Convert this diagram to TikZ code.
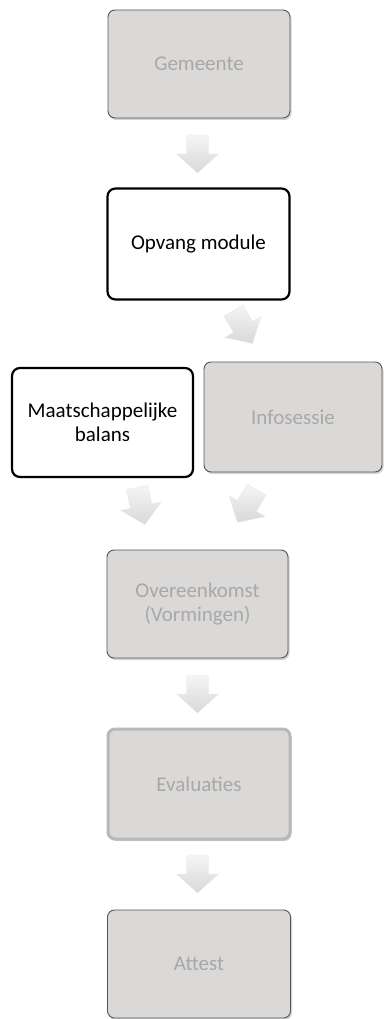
\documentclass[tikz,border=0pt]{standalone}
\usepackage{fontspec}
\setmainfont{Carlito}
\usetikzlibrary{shadows}
\definecolor{boxgrey}{HTML}{DBD9D8}
\definecolor{txtgrey}{HTML}{A8A8A8}
\definecolor{edgegrey}{HTML}{555555}
\definecolor{arrowlight}{HTML}{F5F5F5}
\definecolor{arrowdark}{HTML}{D8D8D8}
\tikzset{
  greybox/.style={draw=edgegrey, line width=0.9pt, fill=boxgrey, rounded corners=7pt,
    drop shadow={shadow xshift=1.5pt, shadow yshift=-2pt, opacity=0.35},
    text=txtgrey, align=center, font=\fontsize{21}{23.5}\selectfont},
  palebox/.style={greybox, draw=black!28, line width=3pt, drop shadow={opacity=0}},
  whitebox/.style={draw=black, line width=2.2pt, fill=white, rounded corners=8pt,
    text=black, align=center, font=\fontsize{21}{23.5}\selectfont},
  blockarrow/.style={top color=arrowlight, bottom color=arrowdark, draw=black!8, line width=0.4pt}
}
\newcommand{\blockarr}[3]{% name, center, rotation
  \coordinate (#1) at (#2);
  \begin{scope}[shift={(#2)}, rotate=#3]
    \path[blockarrow] (-11,-19) -- (11,-19) -- (11,0) -- (21,0) -- (0,19) -- (-21,0) -- (-11,0) -- cycle;
  \end{scope}
}
\begin{document}
\begin{tikzpicture}[x=1pt, y=-1pt]
  \useasboundingbox (0,0) rectangle (383,1019);
  \node[greybox, minimum width=182pt, minimum height=108pt] (gem) at (199,64) {Gemeente};
  \node[whitebox, minimum width=182pt, minimum height=111pt] (opv) at (198.5,244) {Opvang module};
  \node[whitebox, minimum width=181pt, minimum height=109pt] (maat) at (102.5,422.5) {Maatschappelijke\\balans};
  \node[greybox, minimum width=178pt, minimum height=110pt] (info) at (293,417) {Infosessie};
  \node[greybox, minimum width=181pt, minimum height=108pt] (over) at (197.5,604) {Overeenkomst\\(Vormingen)};
  \node[palebox, minimum width=182pt, minimum height=110pt] (eval) at (199,784) {Evaluaties};
  \node[greybox, minimum width=183pt, minimum height=108pt] (att) at (199,964) {Attest};
  \blockarr{a1}{197.5,154}{0}
  \blockarr{a2}{243,327}{30}
  \blockarr{a3}{141,506}{12}
  \blockarr{a4}{247,506}{-30}
  \blockarr{a5}{197.5,694}{0}
  \blockarr{a6}{197.5,874}{0}
\end{tikzpicture}
\end{document}
